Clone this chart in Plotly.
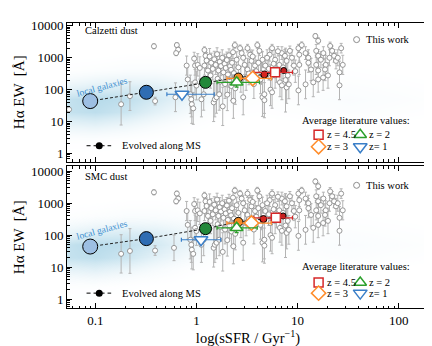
import plotly.graph_objects as go

FONT = "Liberation Serif"

# ---- background shading of local galaxies (relative density) ----
cloud_ssfr = [0.05, 0.1, 0.2, 0.4, 0.8, 1.6, 4, 10, 32, 100, 250]
cloud_ew = [0.5, 2.5, 8, 20, 50, 125, 400, 1600, 16000]
cloud_level = [
    [0, 0, 0, 0, 0, 0, 0, 0, 0, 0, 0],
    [0.15, 0.15, 0.1, 0.05, 0, 0, 0, 0, 0, 0, 0],
    [0.5, 0.55, 0.45, 0.3, 0.15, 0.05, 0, 0.05, 0.05, 0.05, 0],
    [0.8, 0.85, 0.75, 0.55, 0.35, 0.15, 0.1, 0.15, 0.2, 0.15, 0.1],
    [0.8, 0.9, 0.85, 0.7, 0.5, 0.3, 0.15, 0.2, 0.25, 0.2, 0.15],
    [0.5, 0.6, 0.65, 0.6, 0.45, 0.3, 0.15, 0.15, 0.2, 0.15, 0.1],
    [0.15, 0.2, 0.25, 0.25, 0.2, 0.1, 0.05, 0.05, 0.1, 0.05, 0],
    [0, 0, 0.05, 0.05, 0.05, 0, 0, 0, 0, 0, 0],
    [0, 0, 0, 0, 0, 0, 0, 0, 0, 0, 0],
]

# ---- "This work" galaxies: sSFR [1/Gyr], EW [A], error [dex] ----
work_ssfr = [
    0.80, 0.82, 0.95, 0.97, 1.03, 1.08, 1.20, 1.23, 1.20, 1.26, 0.87, 0.89, 0.90, 0.93,
    1.12, 1.18, 0.97, 1.00,
    1.35, 1.40, 1.45, 1.48, 1.50, 1.52, 1.55, 1.58, 1.60, 1.62, 1.65, 1.68, 1.70, 1.72,
    1.75, 1.80, 1.82, 1.85, 1.90, 1.92, 1.95, 2.00, 2.02, 2.05, 2.10, 2.12, 2.15, 2.20,
    2.22, 2.25, 2.30, 2.32, 2.35, 2.40, 2.42, 1.38, 1.30,
    2.4, 2.7, 3.2, 3.4, 4.0, 4.2, 5.3, 5.6, 7.0, 7.5, 8.4, 10.2, 11.0, 10.4, 10.4,
    2.5, 2.9, 3.0, 3.5, 3.8, 4.5, 4.8, 6.0, 6.6, 7.8, 9.2, 2.6, 3.2,
    2.75, 3.1, 4.3, 5.4, 6.7, 7.0, 7.8, 8.2, 5.4, 5.6, 4.5, 10.2, 7.6, 2.9, 4.7, 4.7,
    2.8, 3.3, 3.6, 3.9, 4.1, 4.4, 5.0, 5.2, 5.8, 6.2, 6.4, 7.2, 8.0, 8.8, 9.5, 3.7, 6.0,
    15, 16, 12, 12.8, 15.3, 16, 17, 18, 19, 20.7, 21, 22, 23, 24, 26, 28, 12.8, 13.6,
    15.3, 16, 18.7, 20, 12, 14.3, 17.9, 26, 16, 25, 27,
]
work_ew = [
    570, 210, 940, 570, 600, 480, 1750, 1150, 570, 820, 72, 50, 35, 26,
    50, 72, 170, 135,
    1100, 700, 450, 40, 900, 50, 600, 58, 1300, 220, 400, 72, 750, 180,
    550, 1000, 30, 350, 650, 150, 480, 850, 70, 300, 1200, 200, 550, 420,
    130, 700, 1500, 45, 330, 250, 110, 280, 400,
    2500, 2000, 2000, 1250, 2500, 1650, 1250, 2000, 1400, 1150, 1650, 2000, 2500, 1250, 600,
    870, 1000, 600, 800, 570, 870, 570, 870, 600, 800, 570, 500, 430,
    210, 240, 210, 240, 170, 137, 118, 147, 100, 83, 58, 95, 200, 58, 72, 47,
    1400, 320, 1100, 380, 700, 330, 1000, 450, 650, 380, 1600, 500, 280, 1000, 380, 150, 280,
    4800, 3400, 1400, 1000, 1650, 1150, 870, 1400, 600, 1000, 2350, 1650, 1150, 800, 350, 600, 700, 430,
    600, 400, 430, 280, 147, 170, 240, 137, 210, 1000, 2000,
]
work_err = [
    0.3, 0.45, 0.2, 0.3, 0.35, 0.35, 0.1, 0.15, 0.3, 0.25, 0.6, 0.55, 0.6, 0.5,
    0.55, 0.5, 0.4, 0.45,
    0.25, 0.3, 0.35, 0.6, 0.25, 0.55, 0.3, 0.5, 0.2, 0.45, 0.35, 0.5, 0.3, 0.45,
    0.3, 0.25, 0.6, 0.4, 0.3, 0.45, 0.35, 0.25, 0.5, 0.4, 0.2, 0.4, 0.3, 0.35,
    0.45, 0.3, 0.2, 0.55, 0.35, 0.4, 0.5, 0.4, 0.35,
    0.1, 0.1, 0.12, 0.15, 0.1, 0.15, 0.2, 0.12, 0.2, 0.2, 0.15, 0.12, 0.1, 0.2, 0.3,
    0.25, 0.25, 0.3, 0.3, 0.3, 0.25, 0.3, 0.3, 0.3, 0.3, 0.3, 0.35, 0.35,
    0.4, 0.4, 0.45, 0.4, 0.45, 0.45, 0.5, 0.45, 0.5, 0.5, 0.6, 0.45, 1.0, 0.55, 0.6, 0.55,
    0.15, 0.35, 0.2, 0.35, 0.3, 0.35, 0.25, 0.35, 0.3, 0.35, 0.15, 0.35, 0.4, 0.25, 0.35, 0.45, 0.4,
    0.08, 0.1, 0.2, 0.25, 0.2, 0.2, 0.25, 0.2, 0.3, 0.25, 0.12, 0.15, 0.2, 0.25, 0.35, 0.3, 0.3, 0.35,
    0.3, 0.35, 0.35, 0.4, 0.45, 0.45, 0.4, 0.45, 0.4, 0.25, 0.15,
]

# low-sSFR galaxies, which differ between the two dust corrections
calz_low_ssfr = [0.055, 0.18, 0.22, 0.39, 0.38, 0.62, 0.64, 0.66, 0.63]
calz_low_ew = [24, 35, 63, 44, 2300, 58, 2500, 1800, 1400]
calz_low_err = [0.0, 0.65, 0.45, 0.12, 0.08, 0.45, 0.08, 0.08, 0.08]
smc_low_ssfr = [0.18, 0.22, 0.39, 0.38, 0.60, 0.64, 0.66, 0.63]
smc_low_ew = [26, 32, 33, 2200, 40, 2000, 1400, 1150]
smc_low_err = [0.6, 0.7, 0.15, 0.08, 0.4, 0.08, 0.08, 0.08]

# ---- evolved along the main sequence ----
ms_colors = ["#9dbfe3", "#2f6db3", "#23883a", "#f28b25", "#d7261e", "#c21f1f"]
ms_sizes = [15, 14, 12, 9, 7, 6]
calz_ms_ssfr = [0.089, 0.32, 1.23, 2.6, 4.7, 7.3]
calz_ms_ew = [44, 83, 170, 240, 300, 400]
smc_ms_ssfr = [0.089, 0.32, 1.23, 2.6, 4.6, 7.2]
smc_ms_ew = [44, 78, 160, 260, 320, 400]

# ---- average literature values ----
lit_labels = ["z = 4.5", "z = 3", "z = 2", "z= 1"]
lit_colors = ["#d62728", "#ff8c2a", "#2ca02c", "#3a7fc8"]
lit_symbols = ["square", "diamond", "triangle-up", "triangle-down"]
lit_sizes = [9, 11, 11, 12]
calz_lit_ssfr = [6.0, 3.6, 2.5, 0.72]
calz_lit_ssfr_lo = [3.7, 2.0, 1.6, 0.51]
calz_lit_ssfr_hi = [8.9, 5.5, 4.2, 1.5]
calz_lit_ew = [350, 225, 170, 72]
calz_lit_ew_lo = [265, 185, 120, 66]
calz_lit_ew_hi = [470, 275, 230, 80]
smc_lit_ssfr = [6.1, 3.5, 2.5, 1.11]
smc_lit_ssfr_lo = [3.7, 2.0, 1.6, 0.71]
smc_lit_ssfr_hi = [8.9, 5.5, 4.0, 1.74]
smc_lit_ew = [350, 240, 170, 72]
smc_lit_ew_lo = [265, 195, 120, 66]
smc_lit_ew_hi = [470, 290, 230, 80]

y_tickvals = [1, 10, 100, 1000, 10000]
y_ticktext = ["1", "10", "100", "1000", "10000"]
x_tickvals = [0.1, 1, 10, 100]
x_ticktext = ["0.1", "1", "10", "100"]


def add_panel(fig, xa, ya, ssfr, ew, err, ms_x, ms_y, lx, lx_lo, lx_hi, ly, ly_lo, ly_hi):
    fig.add_trace(go.Heatmap(
        x=cloud_ssfr, y=cloud_ew, z=cloud_level, zsmooth="best", zmin=0, zmax=1,
        colorscale=[[0, "rgba(255,255,255,0)"], [1, "rgba(105,180,212,0.6)"]],
        showscale=False, hoverinfo="skip", xaxis=xa, yaxis=ya,
    ))
    fig.add_trace(go.Scatter(
        x=ssfr, y=ew, mode="markers", xaxis=xa, yaxis=ya,
        marker=dict(symbol="circle", size=5, color="white", opacity=1,
                    line=dict(color="#8c8c8c", width=0.9)),
        error_y=dict(type="data", symmetric=False,
                     array=[v * (10 ** e - 1) for v, e in zip(ew, err)],
                     arrayminus=[v * (1 - 10 ** -e) for v, e in zip(ew, err)],
                     color="#b4b4b4", thickness=1, width=1.5),
    ))
    fig.add_trace(go.Scatter(
        x=ms_x, y=ms_y, mode="lines", xaxis=xa, yaxis=ya,
        line=dict(color="#222222", width=1, dash="3px,2px"),
    ))
    fig.add_trace(go.Scatter(
        x=ms_x, y=ms_y, mode="markers", xaxis=xa, yaxis=ya,
        marker=dict(color=ms_colors, size=ms_sizes, opacity=1, line=dict(color="black", width=1)),
    ))
    for i in range(len(lit_labels)):
        fig.add_trace(go.Scatter(
            x=[lx[i]], y=[ly[i]], mode="markers", xaxis=xa, yaxis=ya,
            marker=dict(symbol=lit_symbols[i], size=lit_sizes[i], color="white", opacity=1,
                        line=dict(color=lit_colors[i], width=1.5)),
            error_x=dict(type="data", symmetric=False, array=[lx_hi[i] - lx[i]],
                         arrayminus=[lx[i] - lx_lo[i]], color=lit_colors[i], thickness=1.2, width=2),
            error_y=dict(type="data", symmetric=False, array=[ly_hi[i] - ly[i]],
                         arrayminus=[ly[i] - ly_lo[i]], color=lit_colors[i], thickness=1.2, width=2),
        ))


def add_legend(fig, lxa, lya, dust, y_this, y_head, y_row1, y_row2, y_ms, y_dust, y_local):
    # glyphs on a hidden 0..1 axis pair overlaying the panel
    fig.add_trace(go.Scatter(
        x=[0.80], y=[y_this], mode="markers", xaxis=lxa, yaxis=lya,
        marker=dict(symbol="circle", size=6, color="white", line=dict(color="#8c8c8c", width=1)),
    ))
    pos = [(0.695, y_row1), (0.695, y_row2), (0.81, y_row1), (0.81, y_row2)]
    for i in range(len(lit_labels)):
        fig.add_trace(go.Scatter(
            x=[pos[i][0]], y=[pos[i][1]], mode="markers", xaxis=lxa, yaxis=lya,
            marker=dict(symbol=lit_symbols[i], size=lit_sizes[i], color="white",
                        line=dict(color=lit_colors[i], width=1.5)),
        ))
        fig.add_annotation(x=pos[i][0] + 0.018, y=pos[i][1], xref=lxa, yref=lya, text=lit_labels[i],
                           showarrow=False, xanchor="left", font=dict(family=FONT, size=10.5, color="black"))
    fig.add_trace(go.Scatter(
        x=[0.054, 0.122], y=[y_ms, y_ms], mode="lines", xaxis=lxa, yaxis=lya,
        line=dict(color="black", width=1, dash="4px,3px"),
    ))
    fig.add_trace(go.Scatter(
        x=[0.089], y=[y_ms], mode="markers", xaxis=lxa, yaxis=lya,
        marker=dict(color="black", size=7),
    ))
    texts = [
        (0.82, y_this, "This work", "left", 10.5, "black", 0),
        (0.797, y_head, "Average literature values:", "center", 10.5, "black", 0),
        (0.146, y_ms, "Evolved along MS", "left", 10.5, "black", 0),
        (0.043, y_dust, dust, "left", 10.5, "black", 0),
        (0.097, y_local, "local galaxies", "center", 9.5, "#3d8fd0", -15),
    ]
    for tx, ty, t, anc, sz, col, ang in texts:
        fig.add_annotation(x=tx, y=ty, xref=lxa, yref=lya, text=t, showarrow=False, xanchor=anc,
                           textangle=ang, font=dict(family=FONT, size=sz, color=col))


fig = go.Figure()
add_panel(fig, "x", "y", calz_low_ssfr + work_ssfr, calz_low_ew + work_ew, calz_low_err + work_err,
          calz_ms_ssfr, calz_ms_ew, calz_lit_ssfr, calz_lit_ssfr_lo, calz_lit_ssfr_hi,
          calz_lit_ew, calz_lit_ew_lo, calz_lit_ew_hi)
add_panel(fig, "x2", "y2", smc_low_ssfr + work_ssfr, smc_low_ew + work_ew, smc_low_err + work_err,
          smc_ms_ssfr, smc_ms_ew, smc_lit_ssfr, smc_lit_ssfr_lo, smc_lit_ssfr_hi,
          smc_lit_ew, smc_lit_ew_lo, smc_lit_ew_hi)
add_legend(fig, "x3", "y3", "Calzetti dust", 0.88, 0.293, 0.193, 0.107, 0.114, 0.945, 0.54)
add_legend(fig, "x4", "y4", "SMC dust", 0.867, 0.294, 0.18, 0.105, 0.105, 0.93, 0.55)

tick_font = dict(family=FONT, size=13, color="black")
minor = dict(ticks="inside", ticklen=2.5, tickwidth=0.7, tickcolor="black", showgrid=False, dtick="D1")
axis_common = dict(type="log", showline=True, linecolor="black", linewidth=1, mirror="allticks",
                   ticks="inside", ticklen=5, tickwidth=0.8, tickcolor="black",
                   minor=minor, showgrid=False, zeroline=False, tickfont=tick_font)
x_common = dict(axis_common, tickvals=x_tickvals, ticktext=x_ticktext, range=[-1.28, 2.30])
y_common = dict(axis_common, tickvals=y_tickvals, ticktext=y_ticktext)
y_title = dict(text="H\u03b1 EW  [\u00c5]", font=dict(family=FONT, size=15, color="black"), standoff=2)

top_dom = [0.514, 1.0]
bot_dom = [0.0, 0.4965]
fig.update_layout(
    width=432, height=346,
    margin=dict(l=52, r=10, t=12, b=46),
    paper_bgcolor="white", plot_bgcolor="white",
    showlegend=False,
    xaxis=dict(x_common, anchor="y", showticklabels=False),
    yaxis=dict(y_common, range=[-0.25, 4.09], domain=top_dom, anchor="x", title=y_title),
    xaxis2=dict(x_common, anchor="y2",
                title=dict(text="log(sSFR / Gyr<sup>\u22121</sup>)", font=dict(family=FONT, size=14.5, color="black"),
                           standoff=6)),
    yaxis2=dict(y_common, range=[-0.28, 4.15], domain=bot_dom, anchor="x2", title=y_title),
    xaxis3=dict(range=[0, 1], overlaying="x", anchor="y3", visible=False),
    yaxis3=dict(range=[0, 1], overlaying="y", anchor="x3", domain=top_dom, visible=False),
    xaxis4=dict(range=[0, 1], overlaying="x2", anchor="y4", visible=False),
    yaxis4=dict(range=[0, 1], overlaying="y2", anchor="x4", domain=bot_dom, visible=False),
)

fig.write_html("out.html")
